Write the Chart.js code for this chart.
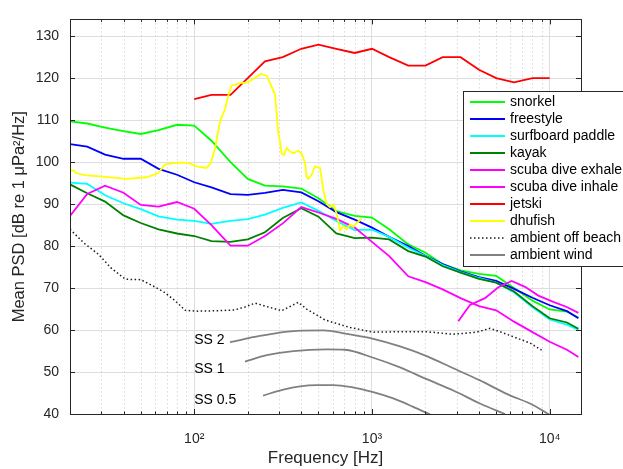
<!DOCTYPE html>
<html>
<head>
<meta charset="utf-8">
<script src="https://cdn.jsdelivr.net/npm/chart.js@4.4.1/dist/chart.umd.min.js"></script>
<style>
  html, body { margin: 0; padding: 0; background: #fff; }
</style>
</head>
<body>
<canvas id="psd-chart" width="623" height="469"></canvas>
<script>
// 1/3-octave band centres shared by most recordings
const bandFreq = [20, 25, 31.5, 40, 50, 63, 80, 100, 125, 160, 200, 250, 315, 400, 500, 630, 800, 1000, 1250, 1600, 2000, 2500, 3150, 4000, 5000, 6300, 8000, 10000, 12500, 14500];
const snorkel = [109.7, 109.2, 108.2, 107.4, 106.7, 107.6, 108.9, 108.7, 105.1, 100.0, 96.0, 94.4, 94.2, 93.7, 91.4, 88.3, 87.2, 86.8, 84.0, 80.4, 78.4, 75.7, 74.2, 73.4, 72.9, 70.0, 67.0, 64.9, 64.4, 63.0];
const freestyle = [104.3, 103.7, 101.8, 100.8, 100.8, 98.4, 97.0, 95.2, 94.0, 92.4, 92.2, 92.7, 93.4, 92.8, 90.7, 88.1, 86.3, 84.4, 82.2, 80.0, 77.7, 75.7, 74.0, 72.6, 71.7, 69.8, 67.7, 65.9, 64.5, 62.8];
const surfboard = [95.1, 94.8, 92.1, 90.2, 88.8, 87.1, 86.3, 86.0, 85.3, 86.0, 86.4, 87.5, 89.1, 90.4, 88.4, 86.0, 83.8, 83.9, 82.2, 79.6, 77.6, 75.5, 73.8, 72.4, 71.3, 69.0, 65.4, 62.5, 61.3, 60.0];
const kayak = [94.7, 92.6, 90.6, 87.3, 85.5, 84.0, 83.0, 82.4, 81.2, 81.0, 81.6, 83.3, 86.7, 89.0, 87.0, 83.0, 81.9, 82.0, 81.6, 78.8, 77.5, 75.2, 73.7, 72.2, 71.3, 69.2, 65.7, 62.8, 61.8, 60.3];
const scubaExhale = [87.2, 92.4, 94.4, 92.7, 89.8, 89.4, 90.5, 88.9, 85.0, 80.1, 80.1, 82.4, 85.4, 89.3, 88.0, 86.5, 84.4, 81.0, 77.6, 72.8, 71.4, 69.7, 67.6, 65.7, 64.7, 62.0, 59.5, 57.2, 55.3, 53.6];

const inhaleFreq = [3060, 3560, 4325, 5140, 6110, 7260, 8630, 10480, 12470, 14500];
const inhaleLevel = [62.1, 66.0, 67.6, 70.2, 71.7, 70.3, 68.2, 66.7, 65.5, 64.1];

const jetskiFreq = [100, 125, 160, 200, 250, 315, 400, 500, 630, 800, 1000, 1250, 1600, 2000, 2500, 3150, 4000, 5000, 6300, 8000, 10000];
const jetskiLevel = [115, 116, 116, 120, 124, 125, 127, 128, 127, 126, 127, 125, 123, 123, 125, 125, 122, 120, 119, 120, 120];

const dhufishFreq = [20, 21, 21.6, 24.3, 29.5, 41.6, 54, 62.7, 68.4, 79.6, 92.5, 103, 117, 124, 131, 140, 149, 155, 162, 181, 201, 225, 237, 256, 285, 297, 304, 310, 320, 331, 346, 361, 385, 402, 420, 429, 438, 458, 478, 510, 532, 556, 580, 606, 633, 661, 690, 720, 752, 785, 820, 875];
const dhufishLevel = [98.0, 98.0, 97.4, 96.9, 96.6, 96.0, 96.4, 97.4, 99.4, 99.9, 99.8, 99.0, 98.6, 99.8, 103.3, 109.9, 112.6, 115.7, 118.2, 118.8, 119.0, 120.4, 121.0, 120.6, 116.1, 107.0, 104.8, 102.1, 101.7, 103.4, 102.5, 102.1, 102.7, 102.1, 99.8, 96.5, 96.0, 97.0, 99.0, 98.6, 93.5, 90.0, 89.3, 89.9, 87.7, 83.8, 84.8, 84.0, 85.1, 84.6, 85.5, 86.5];

const ambientFreq = [20, 24, 29, 34, 41, 50, 58, 68, 78, 89, 105, 137, 169, 193, 220, 261, 310, 385, 429, 458, 544, 752, 1017, 1438, 2032, 2867, 3884, 4613, 5252, 6521, 7747, 9000];
const ambientLevel = [84.0, 80.7, 78.0, 74.8, 72.1, 72.0, 70.6, 69.0, 67.0, 64.7, 64.5, 64.6, 64.8, 65.5, 66.4, 65.5, 64.6, 66.6, 65.0, 64.3, 62.4, 60.6, 59.5, 59.6, 59.6, 59.0, 59.5, 60.4, 59.6, 58.1, 56.9, 55.2];

// wind noise curves for sea states 2, 1, 0.5
const ss2Freq = [159, 234, 377, 532, 720, 1017, 1438, 2032, 2867, 4054, 5728, 8087, 10000];
const ss2Level = [57.1, 58.6, 59.8, 59.9, 59.1, 57.9, 56.1, 53.8, 50.9, 48.0, 44.8, 42.1, 39.8];
const ss1Freq = [193, 256, 361, 556, 705, 1017, 1438, 2032, 2867, 4054, 5604];
const ss1Level = [52.5, 54.0, 55.0, 55.4, 55.3, 53.4, 51.1, 48.3, 45.6, 42.5, 40.0];
const ss05Freq = [244, 317, 393, 488, 606, 769, 1017, 1318, 1708, 2121];
const ss05Level = [44.4, 45.8, 46.6, 46.9, 46.9, 46.4, 45.2, 43.7, 41.7, 39.9];

const ssLabels = ['SS 2', 'SS 1', 'SS 0.5'];
const ssLabelFreq = [100, 100, 100];
const ssLabelLevel = [57.6, 50.6, 43.4];

const xMajorTicks = [100, 1000, 10000];
const xMinorTicks = [30, 40, 50, 60, 70, 80, 90, 200, 300, 400, 500, 600, 700, 800, 900, 2000, 3000, 4000, 5000, 6000, 7000, 8000, 9000];
const yTicks = [40, 50, 60, 70, 80, 90, 100, 110, 120, 130];

const FONT = '"Liberation Sans", Arial, Helvetica, sans-serif';
const AXIS = '#262626';
Chart.defaults.font.family = FONT;

const pts = (xs, ys) => xs.map((x, i) => ({x: x, y: ys[i]}));
const sup = {2: '\u00B2', 3: '\u00B3', 4: '\u2074'};

const series = [
  {label: 'snorkel', data: pts(bandFreq, snorkel), borderColor: '#00ff00'},
  {label: 'freestyle', data: pts(bandFreq, freestyle), borderColor: '#0000ff'},
  {label: 'surfboard paddle', data: pts(bandFreq, surfboard), borderColor: '#00ffff'},
  {label: 'kayak', data: pts(bandFreq, kayak), borderColor: '#008000'},
  {label: 'scuba dive exhale', data: pts(bandFreq, scubaExhale), borderColor: '#ff00ff'},
  {label: 'scuba dive inhale', data: pts(inhaleFreq, inhaleLevel), borderColor: '#ff00ff'},
  {label: 'jetski', data: pts(jetskiFreq, jetskiLevel), borderColor: '#ff0000'},
  {label: 'dhufish', data: pts(dhufishFreq, dhufishLevel), borderColor: '#ffff00'},
  {label: 'ambient off beach', data: pts(ambientFreq, ambientLevel), borderColor: '#1a1a1a', borderDash: [1.5, 2.5], borderWidth: 1.5, borderCapStyle: 'butt'},
  {label: 'ambient wind', data: pts(ss2Freq, ss2Level), borderColor: '#808080', cubicInterpolationMode: 'monotone'},
  {label: 'ambient wind', data: pts(ss1Freq, ss1Level), borderColor: '#808080', cubicInterpolationMode: 'monotone', inLegend: false},
  {label: 'ambient wind', data: pts(ss05Freq, ss05Level), borderColor: '#808080', cubicInterpolationMode: 'monotone', inLegend: false}
];
// matlab draws later lines on top
series.forEach((s, i) => { s.order = series.length - i; });

const axesBox = {
  id: 'axesBox',
  beforeDatasetsDraw(chart) {
    const {ctx, chartArea: {top, bottom}, scales: {x}} = chart;
    ctx.save();
    ctx.strokeStyle = '#c4c4c4';
    ctx.lineWidth = 1;
    ctx.setLineDash([1, 3]);
    xMinorTicks.forEach(v => {
      const px = Math.round(x.getPixelForValue(v)) + 0.5;
      ctx.beginPath();
      ctx.moveTo(px, top);
      ctx.lineTo(px, bottom);
      ctx.stroke();
    });
    ctx.restore();
  },
  afterDatasetsDraw(chart) {
    const {ctx, chartArea: {left, right, top, bottom}, scales: {x, y}} = chart;
    ctx.save();
    ctx.strokeStyle = AXIS;
    ctx.lineWidth = 1;
    ctx.strokeRect(Math.round(left) + 0.5, Math.round(top) + 0.5, Math.round(right - left), Math.round(bottom - top));
    const tick = (x0, y0, x1, y1) => { ctx.beginPath(); ctx.moveTo(x0, y0); ctx.lineTo(x1, y1); ctx.stroke(); };
    xMajorTicks.forEach(v => {
      const px = Math.round(x.getPixelForValue(v)) + 0.5;
      tick(px, bottom, px, bottom - 5);
      tick(px, top, px, top + 5);
    });
    xMinorTicks.forEach(v => {
      const px = Math.round(x.getPixelForValue(v)) + 0.5;
      tick(px, bottom, px, bottom - 2.5);
      tick(px, top, px, top + 2.5);
    });
    yTicks.forEach(v => {
      const py = Math.round(y.getPixelForValue(v)) + 0.5;
      tick(left, py, left + 5, py);
      tick(right, py, right - 5, py);
    });
    // sea state labels
    ctx.fillStyle = '#000';
    ctx.font = '14px ' + FONT;
    ctx.textBaseline = 'middle';
    ctx.textAlign = 'left';
    ssLabels.forEach((t, i) => {
      ctx.fillText(t, x.getPixelForValue(ssLabelFreq[i]), y.getPixelForValue(ssLabelLevel[i]));
    });
    ctx.restore();
  }
};

const boxLegend = {
  id: 'boxLegend',
  afterDraw(chart) {
    const {ctx, chartArea} = chart;
    const items = chart.data.datasets.filter(d => d.inLegend !== false);
    const left = Math.round(chartArea.right) - 118;
    const top = Math.round(chartArea.top) + 72;
    const rowH = 17;
    const h = items.length * rowH + 5;
    ctx.save();
    ctx.fillStyle = '#fff';
    ctx.fillRect(left, top, 200, h);
    ctx.strokeStyle = AXIS;
    ctx.lineWidth = 1;
    ctx.strokeRect(left + 0.5, top + 0.5, 200, h);
    ctx.font = '14px ' + FONT;
    ctx.textBaseline = 'middle';
    items.forEach((d, i) => {
      const cy = top + 11 + i * rowH;
      ctx.strokeStyle = d.borderColor;
      ctx.lineWidth = d.borderWidth || 1.8;
      ctx.setLineDash(d.borderDash || []);
      ctx.beginPath();
      ctx.moveTo(left + 7, cy);
      ctx.lineTo(left + 42, cy);
      ctx.stroke();
      ctx.setLineDash([]);
      ctx.fillStyle = '#000';
      ctx.fillText(d.label, left + 47, cy);
    });
    ctx.restore();
  }
};

new Chart(document.getElementById('psd-chart'), {
  type: 'line',
  data: {datasets: series},
  options: {
    responsive: false,
    animation: false,
    events: [],
    layout: {padding: {top: 12, right: 42, left: 0, bottom: 0}},
    elements: {
      point: {radius: 0},
      line: {borderWidth: 1.8, tension: 0, fill: false}
    },
    plugins: {legend: {display: false}, tooltip: {enabled: false}},
    scales: {
      x: {
        type: 'logarithmic',
        min: 20,
        max: 15000,
        afterBuildTicks: s => { s.ticks = xMajorTicks.map(v => ({value: v})); },
        afterFit: s => { s.height = 55; },
        ticks: {
          callback: v => '10' + sup[Math.round(Math.log10(v))],
          font: {size: 14},
          color: AXIS,
          padding: 17,
          maxRotation: 0,
          autoSkip: false
        },
        grid: {color: '#dedede', lineWidth: 1, drawTicks: false},
        border: {display: false},
        title: {display: true, text: 'Frequency [Hz]', font: {size: 17}, color: AXIS, padding: {top: 0, bottom: 0}}
      },
      y: {
        type: 'linear',
        min: 40,
        max: 134,
        afterBuildTicks: s => { s.ticks = yTicks.map(v => ({value: v})); },
        afterFit: s => { s.width = 70; },
        ticks: {font: {size: 14}, color: AXIS, padding: 11},
        grid: {color: '#dedede', lineWidth: 1, drawTicks: false},
        border: {display: false},
        title: {display: true, text: 'Mean PSD [dB re 1 \u03BCPa\u00B2/Hz]', font: {size: 16.5}, color: AXIS, padding: {top: 10, bottom: 10}}
      }
    }
  },
  plugins: [axesBox, boxLegend]
});
</script>
</body>
</html>
